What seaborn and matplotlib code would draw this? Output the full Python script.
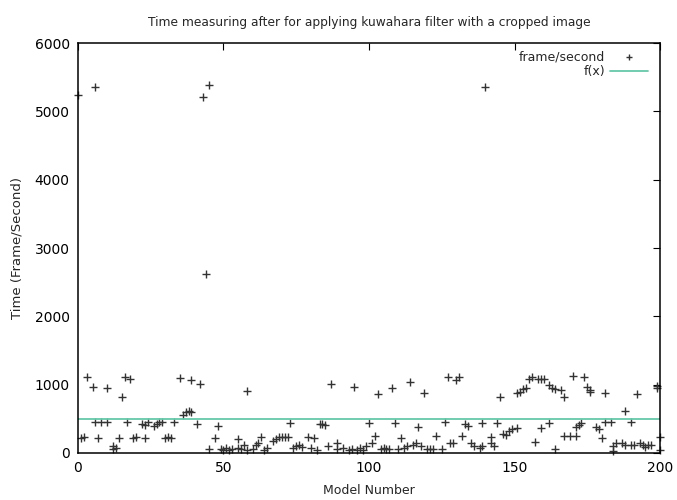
import numpy as np
import pandas as pd
import matplotlib
matplotlib.use("Agg")
import matplotlib.pyplot as plt
import seaborn as sns

# Values
model_number = [
    0, 1, 2, 3, 5, 6, 6, 7, 8, 10, 10, 12, 12, 13, 14, 15, 16, 17, 18, 19,
    20, 22, 23, 23, 24, 26, 27, 28, 29, 30, 31, 32, 33, 35, 36, 37, 38, 39, 39, 41,
    42, 43, 44, 45, 45, 47, 48, 49, 50, 51, 52, 53, 55, 55, 56, 57, 58, 58, 60, 61,
    62, 63, 64, 65, 67, 68, 69, 70, 71, 72, 73, 74, 75, 76, 77, 79, 80, 81, 82, 83,
    84, 85, 86, 87, 89, 89, 91, 93, 94, 95, 96, 97, 98, 99, 100, 101, 102, 103, 104, 105,
    106, 107, 108, 109, 110, 111, 112, 113, 114, 115, 116, 117, 118, 119, 120, 121, 122, 123, 125, 126,
    127, 128, 129, 130, 131, 132, 133, 134, 135, 136, 138, 139, 139, 140, 142, 142, 143, 144, 145, 146,
    147, 148, 149, 151, 151, 152, 153, 154, 155, 156, 157, 158, 159, 159, 160, 162, 162, 163, 164, 164,
    166, 167, 167, 169, 170, 171, 171, 172, 173, 174, 175, 176, 176, 178, 179, 180, 181, 181, 183, 184,
    184, 185, 187, 188, 188, 190, 190, 191, 192, 193, 194, 195, 196, 197, 199, 199, 200, 200,
]
frame_time = [
    5240, 220, 240, 1107, 961, 5350, 449, 224, 449, 449, 946, 60, 100, 80, 224, 824, 1107, 449, 1090, 224,
    230, 420, 410, 224, 449, 400, 420, 449, 449, 224, 230, 220, 449, 1093, 556, 604, 619, 604, 1063, 420,
    1015, 5213, 2619, 5384, 60, 215, 395, 60, 40, 80, 50, 60, 70, 210, 60, 115, 907, 40, 60, 115,
    140, 230, 50, 80, 170, 200, 230, 240, 240, 240, 444, 80, 100, 110, 90, 240, 80, 220, 50, 420,
    420, 410, 100, 1005, 151, 60, 80, 50, 60, 966, 50, 80, 50, 100, 444, 141, 249, 858, 60, 70,
    60, 60, 956, 444, 60, 224, 80, 100, 1034, 115, 150, 385, 100, 882, 60, 60, 60, 249, 60, 458,
    1112, 141, 151, 1063, 1112, 249, 420, 400, 141, 100, 75, 100, 444, 5350, 141, 234, 100, 444, 815, 283,
    258, 327, 351, 361, 873, 900, 931, 946, 1090, 1112, 166, 1090, 1090, 366, 1090, 444, 990, 951, 931, 60,
    922, 824, 249, 249, 1122, 249, 380, 410, 440, 1107, 961, 922, 897, 380, 350, 215, 878, 450, 450, 30,
    100, 150, 141, 614, 114, 450, 114, 114, 858, 141, 120, 95, 120, 114, 956, 985, 230, 50,
]
fx_range = [0, 200]
fx_value = [500, 500]

df = pd.DataFrame({"model": model_number, "time": frame_time})
df_fx = pd.DataFrame({"model": fx_range, "time": fx_value})

sns.set_style("white")
plt.rcParams["font.family"] = ["DejaVu Sans"]

fig = plt.figure(figsize=(6.77, 5.00), dpi=100)
ax = fig.add_axes([0.1152, 0.094, 0.8597, 0.82])

sns.scatterplot(x="model", y="time", data=df, marker="+", color="#333333",
                s=34, linewidth=1.0, label="frame/second", ax=ax, clip_on=False)
sns.lineplot(x="model", y="time", data=df_fx, color="#66c8a8", linewidth=1.3,
             label="f(x)", ax=ax)

ax.set_xlim(0, 200)
ax.set_ylim(0, 6000)
ax.set_xticks([0, 50, 100, 150, 200])
ax.set_yticks([0, 1000, 2000, 3000, 4000, 5000, 6000])
ax.tick_params(direction="in", length=5, width=0.8, top=True, right=True,
               labelsize=10, colors="black", pad=6)
for sp in ax.spines.values():
    sp.set_color("black")
    sp.set_linewidth(1.1)

ax.set_title("Time measuring after for applying kuwahara filter with a cropped image",
             fontsize=8.8, pad=12)
ax.set_xlabel("Model Number", fontsize=9, labelpad=6)
ax.set_ylabel("Time (Frame/Second)", fontsize=9.5, labelpad=8)

leg = ax.legend(loc="upper right", bbox_to_anchor=(0.992, 1.0), frameon=False,
                markerfirst=False, fontsize=9, handlelength=3.0, handletextpad=0.4,
                borderaxespad=0.2, labelspacing=0.15, markerscale=0.8)

fig.savefig("out.png", dpi=100)
print("Saved out.png")
